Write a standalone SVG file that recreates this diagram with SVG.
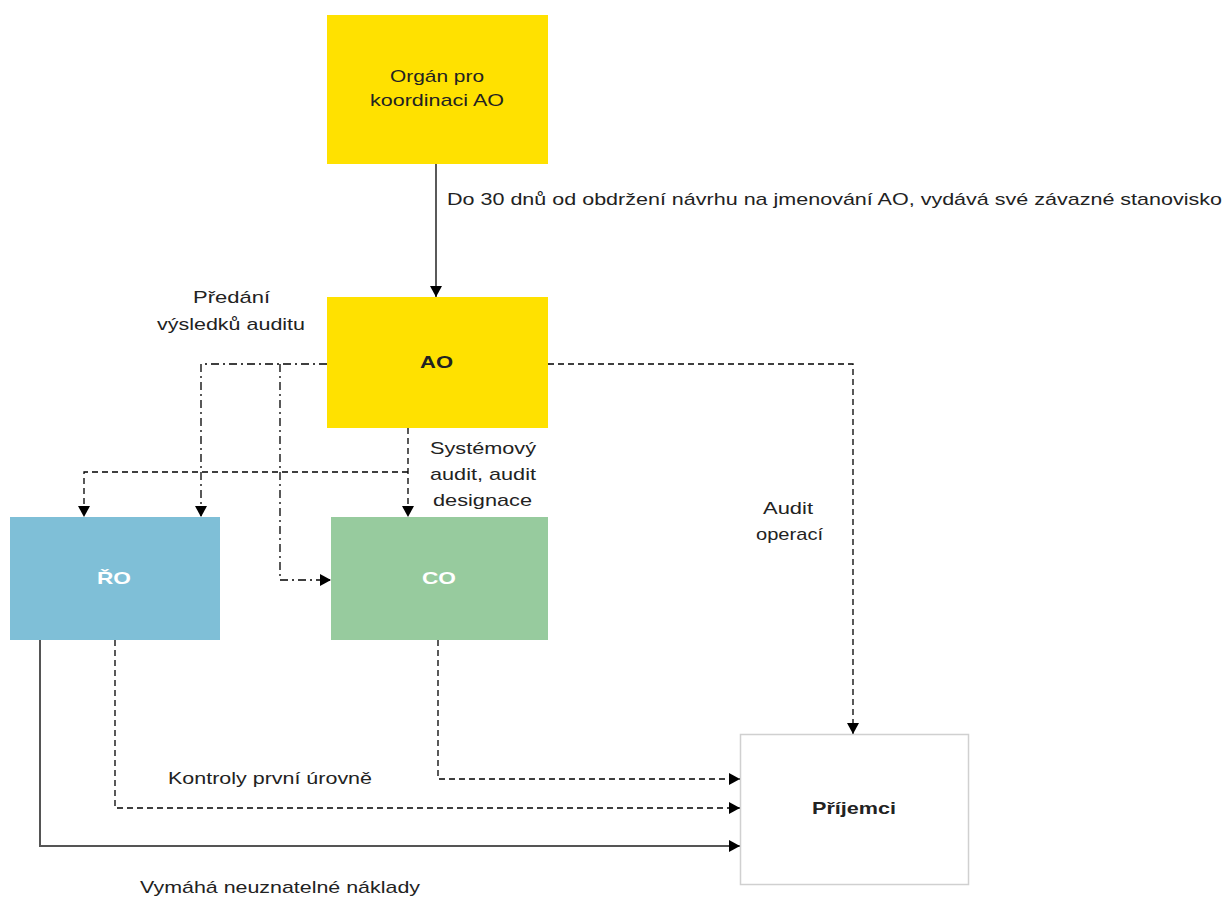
<svg xmlns="http://www.w3.org/2000/svg" width="1227" height="900" viewBox="0 0 1227 900">
<defs>
<marker id="arr" markerUnits="userSpaceOnUse" markerWidth="12" markerHeight="12" refX="11" refY="6" orient="auto">
<path d="M0,0 L11,6 L0,12 z" fill="#000"/>
</marker>
<style>
text{font-family:"Liberation Sans",Arial,sans-serif;font-size:17px;fill:#222}
.b{font-weight:bold}
.w{fill:#fff}
.c{fill:none;stroke:#000;stroke-width:1.3;marker-end:url(#arr)}
.d{stroke-dasharray:6,4}
.dd{stroke-dasharray:8,4,2,4}
.g{stroke:#555;stroke-width:2}
</style>
</defs>
<rect width="1227" height="900" fill="#fff"/>
<g id="connectors">
<path class="c" d="M436,164 V297"/>
<path class="c dd" d="M327,364 H201 V517"/>
<path class="c dd" d="M280,364 V580 H331"/>
<path class="c d" d="M408,428 V517"/>
<path class="c d" d="M408,472 H84 V517"/>
<path class="c d" d="M548,364 H853 V734"/>
<path class="c d" d="M438,640 V779 H740"/>
<path class="c d" d="M115,640 V808 H740"/>
<path class="c g" d="M40,640 V846 H740"/>
</g>
<g id="labels">
<text x="447" y="205" textLength="775" lengthAdjust="spacingAndGlyphs">Do 30 dnů od obdržení návrhu na jmenování AO, vydává své závazné stanovisko</text>
<text x="193" y="303" textLength="77" lengthAdjust="spacingAndGlyphs">Předání</text>
<text x="157" y="330" textLength="148" lengthAdjust="spacingAndGlyphs">výsledků auditu</text>
<text x="430" y="454" textLength="106" lengthAdjust="spacingAndGlyphs">Systémový</text>
<text x="430" y="480" textLength="106" lengthAdjust="spacingAndGlyphs">audit, audit</text>
<text x="433" y="506" textLength="99" lengthAdjust="spacingAndGlyphs">designace</text>
<text x="763" y="514" textLength="50" lengthAdjust="spacingAndGlyphs">Audit</text>
<text x="756" y="540" textLength="67" lengthAdjust="spacingAndGlyphs">operací</text>
<text x="168" y="784" textLength="204" lengthAdjust="spacingAndGlyphs">Kontroly první úrovně</text>
<text x="140" y="893" textLength="280" lengthAdjust="spacingAndGlyphs">Vymáhá neuznatelné náklady</text>
</g>
<g id="organ">
<rect x="327" y="15" width="221" height="149" fill="#FFE100"/>
<text x="390" y="82" textLength="94" lengthAdjust="spacingAndGlyphs">Orgán pro</text>
<text x="370" y="106" textLength="134" lengthAdjust="spacingAndGlyphs">koordinaci AO</text>
</g>
<g id="ao">
<rect x="327" y="297" width="221" height="131" fill="#FFE100"/>
<text class="b" x="420" y="368" textLength="33" lengthAdjust="spacingAndGlyphs">AO</text>
</g>
<g id="ro">
<rect x="10" y="517" width="210" height="123" fill="#7FBFD7"/>
<text class="b w" x="97" y="584" textLength="34" lengthAdjust="spacingAndGlyphs">ŘO</text>
</g>
<g id="co">
<rect x="331" y="517" width="217" height="123" fill="#97CB9E"/>
<text class="b w" x="422" y="584" textLength="34" lengthAdjust="spacingAndGlyphs">CO</text>
</g>
<g id="prijemci">
<rect x="740.5" y="734.5" width="228" height="150" fill="#fff" stroke="#d0d0d0" stroke-width="1.5"/>
<text class="b" x="812" y="814" textLength="84" lengthAdjust="spacingAndGlyphs">Příjemci</text>
</g>
</svg>
